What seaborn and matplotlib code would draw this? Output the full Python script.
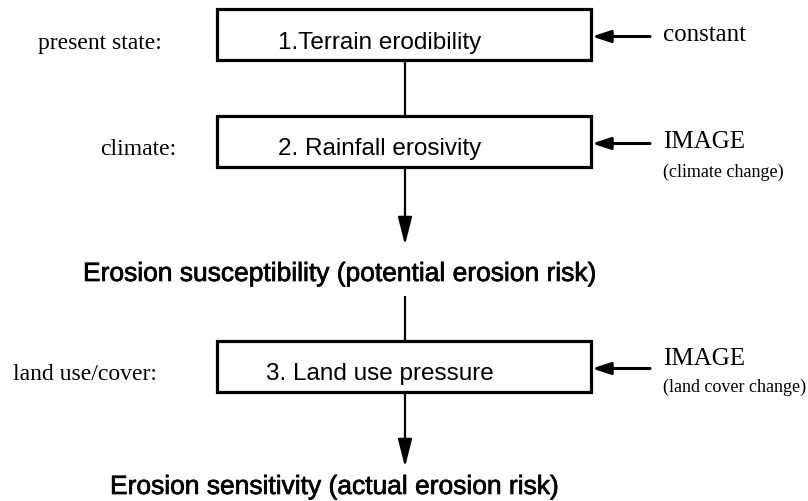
import matplotlib
matplotlib.use("Agg")
import matplotlib.pyplot as plt
import matplotlib.patheffects as pe
import seaborn as sns
from matplotlib.patches import Rectangle

# flowchart content
box_labels = ["1.Terrain erodibility", "2. Rainfall erosivity", "3. Land use pressure"]
left_labels = ["present state:", "climate:", "land use/cover:"]
right_main = ["constant", "IMAGE", "IMAGE"]
right_sub = ["", "(climate change)", "(land cover change)"]
outcomes = ["Erosion susceptibility (potential erosion risk)",
            "Erosion sensitivity (actual erosion risk)"]

sns.set_theme(style="white")
plt.rcParams['font.family'] = ['Liberation Sans', 'DejaVu Sans']
plt.rcParams['text.color'] = 'black'

fig = plt.figure(figsize=(8.08, 5.02), dpi=100)
ax = fig.add_axes([0, 0, 1, 1])
ax.set_xlim(0, 808)
ax.set_ylim(502, 0)
ax.axis("off")

serif = ['Liberation Serif', 'DejaVu Serif']
box_x0, box_x1 = 217, 591
box_tops = [10, 117, 342]
box_h = 51
cx = 405
left_x = [38, 100, 13]
main_dy = [-7.5, -7.5, -15.5]   # right-hand label baselines relative to box text baseline
sub_dy = [0, 21.5, 11.5]

for i, (label, left, rmain, rsub) in enumerate(zip(box_labels, left_labels, right_main, right_sub)):
    top = box_tops[i]
    ax.add_patch(Rectangle((box_x0, top), box_x1 - box_x0, box_h,
                           fill=False, edgecolor="black", linewidth=2.3))
    mid = top + box_h / 2
    base = mid + 13
    ax.text(380, base, label, ha="center", va="baseline", fontsize=17.5)
    ax.text(left_x[i], base, left, ha="left", va="baseline", fontsize=17, family=serif)
    ax.annotate("", xy=(box_x1 + 1, mid + 2), xytext=(650, mid + 2),
                arrowprops=dict(arrowstyle="-|>,head_length=1.1,head_width=0.36",
                                mutation_scale=10, shrinkA=0, shrinkB=0,
                                color="black", lw=2.2))
    ax.text(663, base + main_dy[i], rmain, ha="left", va="baseline", fontsize=18, family=serif)
    if rsub:
        ax.text(663, base + sub_dy[i], rsub, ha="left", va="baseline",
                fontsize=13, family=serif)

# connectors
ax.vlines(cx, box_tops[0] + box_h, box_tops[1], color="black", lw=1.6)
ax.vlines(cx, 297, box_tops[2], color="black", lw=1.6)
for y0, y1 in [(box_tops[1] + box_h, 246), (box_tops[2] + box_h, 468)]:
    ax.annotate("", xy=(cx, y1), xytext=(cx, y0),
                arrowprops=dict(arrowstyle="-|>,head_length=1.7,head_width=0.43",
                                mutation_scale=10, shrinkA=0, shrinkB=0,
                                color="black", lw=1.6))

stroke = [pe.withStroke(linewidth=0.5, foreground="black")]
ax.text(83, 282, outcomes[0], ha="left", va="baseline", fontsize=19, path_effects=stroke)
ax.text(110, 495, outcomes[1], ha="left", va="baseline", fontsize=19, path_effects=stroke)

fig.savefig("out.png", dpi=100)
